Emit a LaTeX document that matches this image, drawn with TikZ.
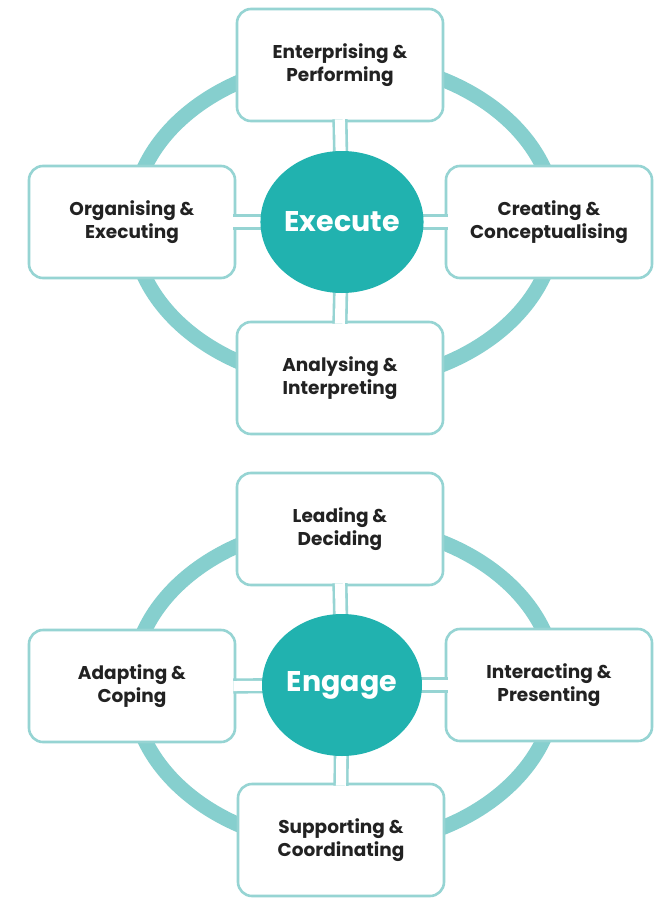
\documentclass[tikz,border=0pt]{standalone}
\usepackage{fontspec}
\setmainfont{Poppins}
\definecolor{ringteal}{RGB}{134,207,206}
\definecolor{edgeteal}{RGB}{150,212,211}
\definecolor{coreteal}{RGB}{33,178,175}
\definecolor{labelgray}{RGB}{34,34,34}
\tikzset{
  ring/.style={draw=ringteal, line width=15pt},
  skillbox/.style={draw=edgeteal, line width=2.6pt, fill=white, rounded corners=14pt,
    minimum width=206pt, minimum height=112pt, align=center, text=labelgray,
    font=\fontsize{18.5}{23}\selectfont\bfseries, inner sep=0pt},
  core/.style={ellipse, fill=coreteal, minimum width=160pt, minimum height=142pt,
    text=white, font=\fontsize{28.5}{32}\selectfont\bfseries, inner sep=0pt},
  link/.style={draw=edgeteal, line width=2.6pt, double=white, double distance=10pt,
    shorten >=-3pt},
}
\usetikzlibrary{shapes.geometric}
\begin{document}
\begin{tikzpicture}[x=1pt,y=-1pt]
\useasboundingbox[fill=white] (0,0) rectangle (661,899);

% ---- Execute cluster ----
\draw[ring] (344,222) ellipse [x radius=212, y radius=161];
\node[skillbox] (ep) at (340,65)  {Enterprising \&\\Performing};
\node[skillbox] (oe) at (132,222) {Organising \&\\Executing};
\node[skillbox] (cc) at (549,222) {Creating \&\\Conceptualising};
\node[skillbox] (ai) at (340,378) {Analysing \&\\Interpreting};
\coordinate (xc) at (342,222);
\draw[link] (xc) -- (ep.south);
\draw[link] (xc) -- (oe.east);
\draw[link] (xc) -- (cc.west);
\draw[link] (xc) -- (ai.north);
\node[core] (exec) at (xc) {Execute};

% ---- Engage cluster ----
\draw[ring] (344,685) ellipse [x radius=212, y radius=161];
\node[skillbox] (ld) at (340,529) {Leading \&\\Deciding};
\node[skillbox] (ac) at (132,686) {Adapting \&\\Coping};
\node[skillbox] (ip) at (549,685) {Interacting \&\\Presenting};
\node[skillbox] (sc) at (341,840) {Supporting \&\\Coordinating};
\coordinate (gc) at (342,685);
\draw[link] (gc) -- (ld.south);
\draw[link] (gc) -- (ac.east);
\draw[link] (gc) -- (ip.west);
\draw[link] (gc) -- (sc.north);
\node[core] (eng) at (gc) {Engage};
\end{tikzpicture}
\end{document}
